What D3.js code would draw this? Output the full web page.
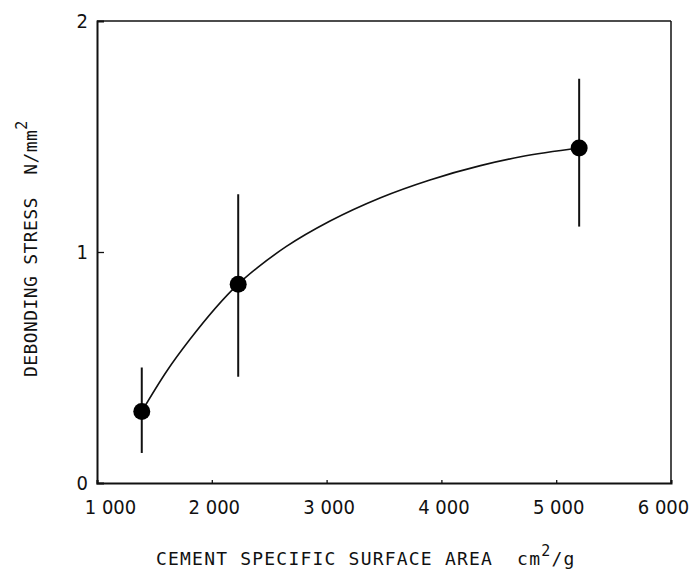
<!DOCTYPE html>
<html>
<head>
<meta charset="utf-8">
<script src="https://cdn.jsdelivr.net/npm/d3@7"></script>
<style>
  html, body { margin: 0; padding: 0; background: #fff; }
  svg { display: block; }
  .tick-label { font-family: "DejaVu Sans Condensed", "DejaVu Sans", sans-serif; font-size: 20px; fill: #111; }
  .title { font-family: "DejaVu Sans Mono", monospace; font-size: 18px; fill: #111; }
</style>
</head>
<body>
<div id="chart"></div>
<script>
const width = 693;
const height = 577;
const margin = { top: 21, right: 22, bottom: 94, left: 97 };

// measured points (cement specific surface area, debonding stress)
const surfaceArea = [1390, 2230, 5200];
const stress = [0.31, 0.86, 1.45];
const errLow = [0.13, 0.46, 1.11];
const errHigh = [0.50, 1.25, 1.75];

// fitted curve
const curveX = [1390, 1610, 1810, 2230, 2420, 2650, 3030, 3470, 3900, 4340, 4690, 5200];
const curveY = [0.31, 0.486, 0.622, 0.861, 0.941, 1.024, 1.134, 1.235, 1.312, 1.374, 1.412, 1.45];

const xTicks = [1000, 2000, 3000, 4000, 5000, 6000];
const xTickLabels = ["1 000", "2 000", "3 000", "4 000", "5 000", "6 000"];
const yTicks = [0, 1, 2];
const yTickLabels = ["0", "1", "2"];

const svg = d3.select("#chart")
    .append("svg")
    .attr("width", width)
    .attr("height", height);

const xScale = d3.scaleLinear()
    .domain([1000, 6000])
    .range([margin.left, width - margin.right]);

const yScale = d3.scaleLinear()
    .domain([0, 2])
    .range([height - margin.bottom, margin.top]);

const x0 = xScale(1000), x1 = xScale(6000);
const y0 = yScale(0), y1 = yScale(2);

// frame
svg.append("line")
    .attr("x1", x0).attr("x2", x1).attr("y1", y1).attr("y2", y1)
    .attr("stroke", "#111").attr("stroke-width", 1.5);
svg.append("line")
    .attr("x1", x1).attr("x2", x1).attr("y1", y1).attr("y2", y0)
    .attr("stroke", "#111").attr("stroke-width", 1.5);

// axes
const xAxis = d3.axisBottom(xScale)
    .tickValues(xTicks)
    .tickSize(-3)
    .tickFormat((d, i) => xTickLabels[i]);

const xAxisGroup = svg.append("g")
    .attr("transform", `translate(0, ${y0})`)
    .call(xAxis);
xAxisGroup.select(".domain").attr("stroke", "#111").attr("stroke-width", 2);
xAxisGroup.selectAll(".tick line").attr("stroke", "#111").attr("stroke-width", 1.3);
xAxisGroup.selectAll(".tick text")
    .attr("class", "tick-label")
    .attr("font-family", null).attr("font-size", null)
    .attr("y", 31).attr("dy", null)
    .attr("dx", (d, i) => i === 0 ? 13 : (i === xTicks.length - 1 ? -8 : 2));

const yAxis = d3.axisLeft(yScale)
    .tickValues(yTicks)
    .tickSize(-7)
    .tickFormat((d, i) => yTickLabels[i]);

const yAxisGroup = svg.append("g")
    .attr("transform", `translate(${x0}, 0)`)
    .call(yAxis);
yAxisGroup.select(".domain").attr("stroke", "#111").attr("stroke-width", 2);
yAxisGroup.selectAll(".tick line")
    .attr("stroke", "#111").attr("stroke-width", 1.3)
    .attr("opacity", d => d === 1 ? 1 : 0);
yAxisGroup.selectAll(".tick text")
    .attr("class", "tick-label")
    .attr("font-family", null).attr("font-size", null)
    .attr("x", -9).attr("dy", "0.3em");

// fitted curve
const line = d3.line()
    .x(d => xScale(d[0]))
    .y(d => yScale(d[1]))
    .curve(d3.curveMonotoneX);

svg.append("path")
    .datum(curveX.map((v, i) => [v, curveY[i]]))
    .attr("d", line)
    .attr("fill", "none")
    .attr("stroke", "#111")
    .attr("stroke-width", 1.6);

// error bars and points
const points = surfaceArea.map((v, i) => ({ x: v, y: stress[i], lo: errLow[i], hi: errHigh[i] }));

svg.selectAll(".err")
    .data(points)
    .enter()
    .append("line")
    .attr("class", "err")
    .attr("x1", d => xScale(d.x))
    .attr("x2", d => xScale(d.x))
    .attr("y1", d => yScale(d.lo))
    .attr("y2", d => yScale(d.hi))
    .attr("stroke", "#111")
    .attr("stroke-width", 2);

svg.selectAll(".pt")
    .data(points)
    .enter()
    .append("circle")
    .attr("class", "pt")
    .attr("cx", d => xScale(d.x))
    .attr("cy", d => yScale(d.y))
    .attr("r", 8.5)
    .attr("fill", "#000");

// axis titles
const xTitle = svg.append("text")
    .attr("class", "title")
    .attr("x", 156)
    .attr("y", 565)
    .attr("letter-spacing", 1.2);
xTitle.append("tspan").text("CEMENT SPECIFIC SURFACE AREA\u00a0\u00a0cm");
xTitle.append("tspan").attr("dy", -9).attr("font-size", 15).text("2");
xTitle.append("tspan").attr("dy", 9).text("/g");

const yTitle = svg.append("text")
    .attr("class", "title")
    .attr("transform", "translate(37, 377) rotate(-90)")
    .attr("letter-spacing", 0.4);
yTitle.append("tspan").text("DEBONDING STRESS\u00a0\u00a0N/mm");
yTitle.append("tspan").attr("dy", -10).attr("font-size", 15).text("2");
</script>
</body>
</html>
